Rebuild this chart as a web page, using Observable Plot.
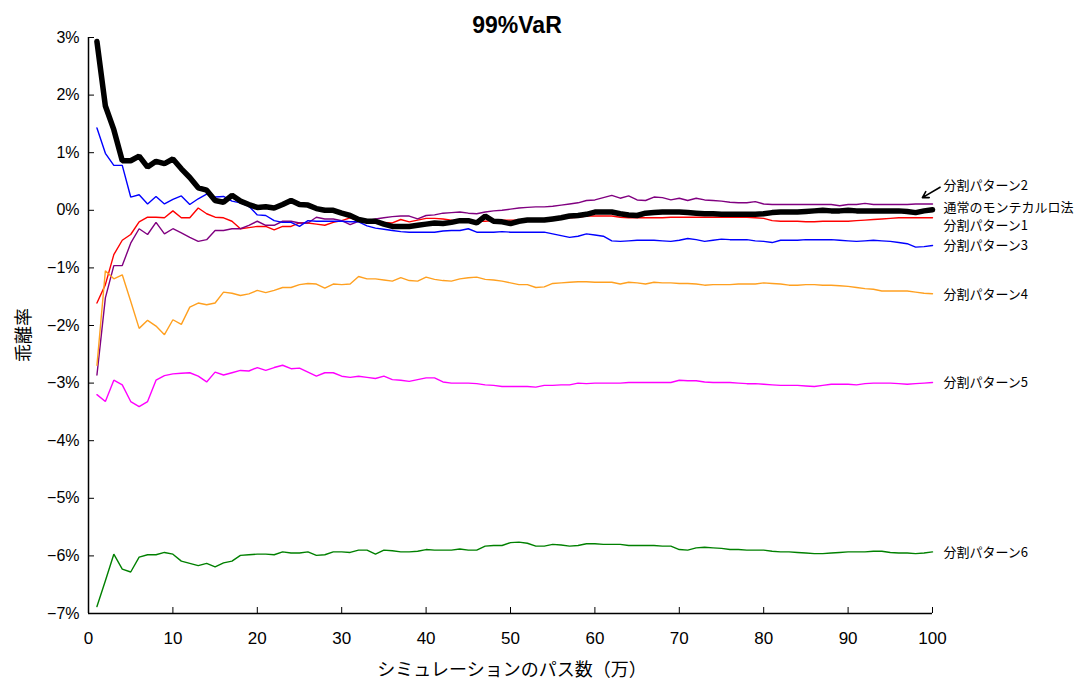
<!DOCTYPE html>
<html><head><meta charset="utf-8">
<script src="https://cdn.jsdelivr.net/npm/d3@7"></script>
<script src="https://cdn.jsdelivr.net/npm/@observablehq/plot@0.6"></script>
<style>
body{margin:0;background:#fff;font-family:"Liberation Sans",Arial,"Noto Sans CJK JP",sans-serif;color:#000;}
#wrap{position:relative;width:1077px;height:684px;overflow:hidden;}
#title{position:absolute;left:0;top:10px;width:1034px;text-align:center;font-weight:bold;font-size:23px;line-height:30px;z-index:2;}
#chart{position:absolute;left:0;top:27px;z-index:1;}
#ylab{position:absolute;left:22px;top:335px;transform:translate(-50%,-50%) rotate(-90deg);font-family:"Noto Sans CJK JP",sans-serif;font-size:18px;white-space:nowrap;z-index:2;}
#xlab{position:absolute;left:512px;top:668px;transform:translate(-50%,-50%);font-family:"Noto Sans CJK JP",sans-serif;font-size:18px;white-space:nowrap;z-index:2;}
</style></head>
<body>
<div id="wrap">
<div id="chart"></div>
<div id="title">99%VaR</div>
<div id="ylab">乖離率</div>
<div id="xlab">シミュレーションのパス数（万）</div>
</div>
<script>
const xTicks = [0,10,20,30,40,50,60,70,80,90,100];
const yTicks = [-7,-6,-5,-4,-3,-2,-1,0,1,2,3];

const normalMC = [2.93,1.81,1.40,0.86,0.86,0.94,0.75,0.85,0.81,0.89,0.72,0.57,0.39,0.35,0.17,0.14,0.26,0.16,0.10,0.05,
0.06,0.04,0.10,0.17,0.10,0.09,0.03,0.00,0.00,-0.05,-0.09,-0.16,-0.19,-0.19,-0.24,-0.28,-0.28,-0.28,-0.26,-0.24,
-0.22,-0.23,-0.21,-0.18,-0.18,-0.22,-0.10,-0.19,-0.20,-0.23,-0.19,-0.17,-0.17,-0.17,-0.15,-0.13,-0.10,-0.09,-0.07,-0.03,
-0.03,-0.03,-0.06,-0.08,-0.09,-0.05,-0.04,-0.03,-0.03,-0.03,-0.04,-0.05,-0.06,-0.06,-0.07,-0.07,-0.07,-0.07,-0.07,-0.06,
-0.04,-0.03,-0.03,-0.03,-0.02,-0.01,0.00,-0.01,-0.01,0.00,-0.01,-0.01,-0.01,-0.01,-0.01,-0.01,-0.02,-0.04,-0.01,0.01];

const pattern1 = [-1.61,-1.29,-0.77,-0.52,-0.42,-0.20,-0.12,-0.12,-0.13,-0.01,-0.13,-0.13,0.04,-0.06,-0.12,-0.13,-0.19,-0.32,-0.30,-0.28,
-0.28,-0.34,-0.28,-0.28,-0.22,-0.22,-0.24,-0.26,-0.21,-0.18,-0.13,-0.18,-0.19,-0.20,-0.21,-0.22,-0.16,-0.20,-0.17,-0.14,
-0.14,-0.15,-0.17,-0.18,-0.19,-0.19,-0.19,-0.18,-0.17,-0.17,-0.17,-0.17,-0.17,-0.16,-0.16,-0.14,-0.13,-0.12,-0.10,-0.10,
-0.10,-0.10,-0.12,-0.13,-0.13,-0.13,-0.13,-0.13,-0.12,-0.12,-0.12,-0.12,-0.12,-0.12,-0.12,-0.12,-0.12,-0.12,-0.13,-0.14,
-0.18,-0.19,-0.19,-0.19,-0.20,-0.20,-0.19,-0.19,-0.19,-0.19,-0.18,-0.17,-0.16,-0.15,-0.14,-0.13,-0.13,-0.13,-0.13,-0.13];

const pattern2 = [-2.86,-1.52,-0.96,-0.96,-0.57,-0.32,-0.42,-0.21,-0.41,-0.32,-0.39,-0.47,-0.54,-0.51,-0.35,-0.35,-0.32,-0.32,-0.26,-0.19,
-0.26,-0.26,-0.19,-0.19,-0.22,-0.22,-0.12,-0.15,-0.15,-0.18,-0.25,-0.19,-0.18,-0.15,-0.13,-0.11,-0.10,-0.10,-0.15,-0.09,
-0.08,-0.05,-0.04,-0.03,-0.05,-0.06,-0.03,-0.01,0.00,0.02,0.04,0.05,0.06,0.06,0.07,0.09,0.11,0.13,0.17,0.18,
0.22,0.26,0.21,0.25,0.18,0.17,0.23,0.22,0.18,0.21,0.17,0.21,0.18,0.17,0.16,0.14,0.13,0.13,0.15,0.11,
0.10,0.10,0.10,0.10,0.10,0.10,0.10,0.10,0.08,0.10,0.10,0.12,0.10,0.10,0.10,0.10,0.10,0.11,0.11,0.11];

const pattern3 = [1.43,0.99,0.78,0.78,0.23,0.27,0.11,0.24,0.11,0.19,0.25,0.10,0.20,0.28,0.23,0.24,0.16,0.13,0.07,-0.08,
-0.09,-0.18,-0.21,-0.21,-0.28,-0.18,-0.19,-0.19,-0.19,-0.19,-0.20,-0.20,-0.27,-0.31,-0.33,-0.35,-0.37,-0.38,-0.38,-0.38,
-0.38,-0.36,-0.35,-0.35,-0.32,-0.38,-0.38,-0.38,-0.37,-0.38,-0.38,-0.38,-0.38,-0.38,-0.41,-0.44,-0.47,-0.45,-0.41,-0.43,
-0.45,-0.53,-0.54,-0.53,-0.52,-0.52,-0.52,-0.53,-0.54,-0.52,-0.49,-0.51,-0.54,-0.52,-0.50,-0.51,-0.51,-0.51,-0.53,-0.54,
-0.56,-0.52,-0.52,-0.52,-0.51,-0.51,-0.51,-0.51,-0.52,-0.53,-0.54,-0.53,-0.52,-0.53,-0.54,-0.56,-0.58,-0.64,-0.63,-0.61];

const pattern4 = [-2.69,-1.05,-1.19,-1.12,-1.58,-2.05,-1.91,-2.01,-2.16,-1.90,-1.98,-1.68,-1.61,-1.64,-1.61,-1.42,-1.44,-1.48,-1.45,-1.39,
-1.43,-1.39,-1.34,-1.34,-1.29,-1.27,-1.28,-1.35,-1.28,-1.29,-1.28,-1.15,-1.19,-1.19,-1.21,-1.23,-1.17,-1.22,-1.23,-1.16,
-1.20,-1.22,-1.23,-1.19,-1.17,-1.16,-1.20,-1.21,-1.23,-1.26,-1.29,-1.29,-1.34,-1.33,-1.27,-1.26,-1.25,-1.24,-1.24,-1.25,
-1.25,-1.25,-1.28,-1.25,-1.26,-1.28,-1.25,-1.26,-1.26,-1.27,-1.27,-1.28,-1.30,-1.29,-1.29,-1.29,-1.28,-1.28,-1.28,-1.26,
-1.27,-1.28,-1.30,-1.30,-1.29,-1.29,-1.30,-1.30,-1.31,-1.32,-1.34,-1.36,-1.37,-1.40,-1.40,-1.40,-1.40,-1.42,-1.44,-1.45];

const pattern5 = [-3.20,-3.32,-2.95,-3.03,-3.32,-3.41,-3.32,-2.95,-2.87,-2.84,-2.83,-2.82,-2.88,-2.98,-2.81,-2.86,-2.82,-2.78,-2.79,-2.73,
-2.78,-2.73,-2.69,-2.75,-2.74,-2.81,-2.88,-2.82,-2.82,-2.88,-2.90,-2.88,-2.90,-2.92,-2.88,-2.94,-2.95,-2.97,-2.94,-2.91,
-2.91,-2.98,-3.00,-3.00,-3.00,-3.01,-3.03,-3.04,-3.06,-3.06,-3.06,-3.06,-3.07,-3.04,-3.04,-3.03,-3.03,-3.00,-3.01,-3.00,
-3.00,-3.00,-3.00,-2.99,-2.99,-2.99,-2.99,-2.99,-2.99,-2.95,-2.96,-2.96,-2.98,-2.99,-2.99,-2.99,-3.00,-3.01,-3.01,-3.02,
-3.03,-3.04,-3.04,-3.04,-3.05,-3.06,-3.04,-3.02,-3.02,-3.02,-3.03,-3.01,-3.00,-3.00,-3.00,-3.01,-3.02,-3.01,-3.00,-2.99];

const pattern6 = [-6.88,-6.43,-5.97,-6.23,-6.28,-6.02,-5.98,-5.98,-5.94,-5.97,-6.09,-6.13,-6.17,-6.13,-6.19,-6.12,-6.09,-5.99,-5.98,-5.97,
-5.97,-5.98,-5.93,-5.95,-5.95,-5.93,-5.99,-5.98,-5.93,-5.93,-5.94,-5.90,-5.90,-5.97,-5.90,-5.91,-5.93,-5.93,-5.92,-5.89,
-5.90,-5.90,-5.90,-5.88,-5.90,-5.90,-5.83,-5.82,-5.82,-5.77,-5.76,-5.78,-5.83,-5.83,-5.80,-5.81,-5.83,-5.82,-5.79,-5.79,
-5.80,-5.80,-5.80,-5.82,-5.82,-5.82,-5.82,-5.83,-5.83,-5.89,-5.90,-5.86,-5.85,-5.86,-5.87,-5.89,-5.89,-5.90,-5.90,-5.90,
-5.92,-5.93,-5.93,-5.94,-5.95,-5.96,-5.96,-5.95,-5.94,-5.93,-5.93,-5.93,-5.92,-5.92,-5.94,-5.95,-5.95,-5.96,-5.95,-5.93];

const seriesNames = ["分割パターン1","分割パターン2","分割パターン3","分割パターン4","分割パターン5","分割パターン6","通常のモンテカルロ法"];
const seriesValues = [pattern1, pattern2, pattern3, pattern4, pattern5, pattern6, normalMC];
const seriesColors = ["#ff0000","#800080","#0000ff","#ffa020","#ff00ff","#008000","#000000"];
const seriesWidths = [1.4,1.4,1.4,1.4,1.4,1.4,5.5];

// label positions (in % units at right edge)
const labelY = [-0.27, 0.42, -0.61, -1.46, -2.99, -5.94, 0.05];
// arrow for 分割パターン2 (tail, head)
const arrowPts = {x1: 100.9, y1: 0.40, x2: 98.8, y2: 0.22};

const fmt = d => (d < 0 ? "\u2212" : "") + Math.abs(d) + "%";
const lineMarks = seriesNames.map((name, i) =>
  Plot.line(seriesValues[i].map((v, j) => ({x: j + 1, y: v})), {
    x: "x", y: "y", stroke: seriesColors[i], strokeWidth: seriesWidths[i], strokeLinejoin: "miter"
  })
);
const labels = seriesNames.map((name, i) => ({name, y: labelY[i]}));

const chart = Plot.plot({
  width: 1077, height: 657,
  marginTop: 10, marginBottom: 71, marginLeft: 88, marginRight: 145,
  style: {fontFamily: '"Liberation Sans", Arial, "Noto Sans CJK JP", sans-serif', fontSize: "16px", background: "transparent", overflow: "visible", color: "#000"},
  x: {domain: [0, 100]},
  y: {domain: [-7, 3]},
  marks: [
    Plot.axisY({ticks: yTicks, tickSize: -6, tickPadding: 15, tickFormat: fmt, label: null, fontSize: 16}),
    Plot.axisX({ticks: xTicks, tickSize: -6, tickPadding: 24, tickFormat: d => String(d), label: null, fontSize: 17}),
    Plot.ruleX([0], {stroke: "#000", strokeWidth: 1.5}),
    Plot.ruleY([-7], {stroke: "#000", strokeWidth: 1.5}),
    ...lineMarks,
    Plot.text(labels, {x: () => 100, y: "y", text: "name", textAnchor: "start", dx: 11, fontSize: 13,
      fontFamily: '"Noto Sans CJK JP", sans-serif', fill: "#000"}),
    Plot.arrow([arrowPts], {x1: "x1", y1: "y1", x2: "x2", y2: "y2", stroke: "#000", strokeWidth: 1.6, headLength: 9, clip: false})
  ]
});
document.getElementById("chart").appendChild(chart);
</script>
</body></html>
